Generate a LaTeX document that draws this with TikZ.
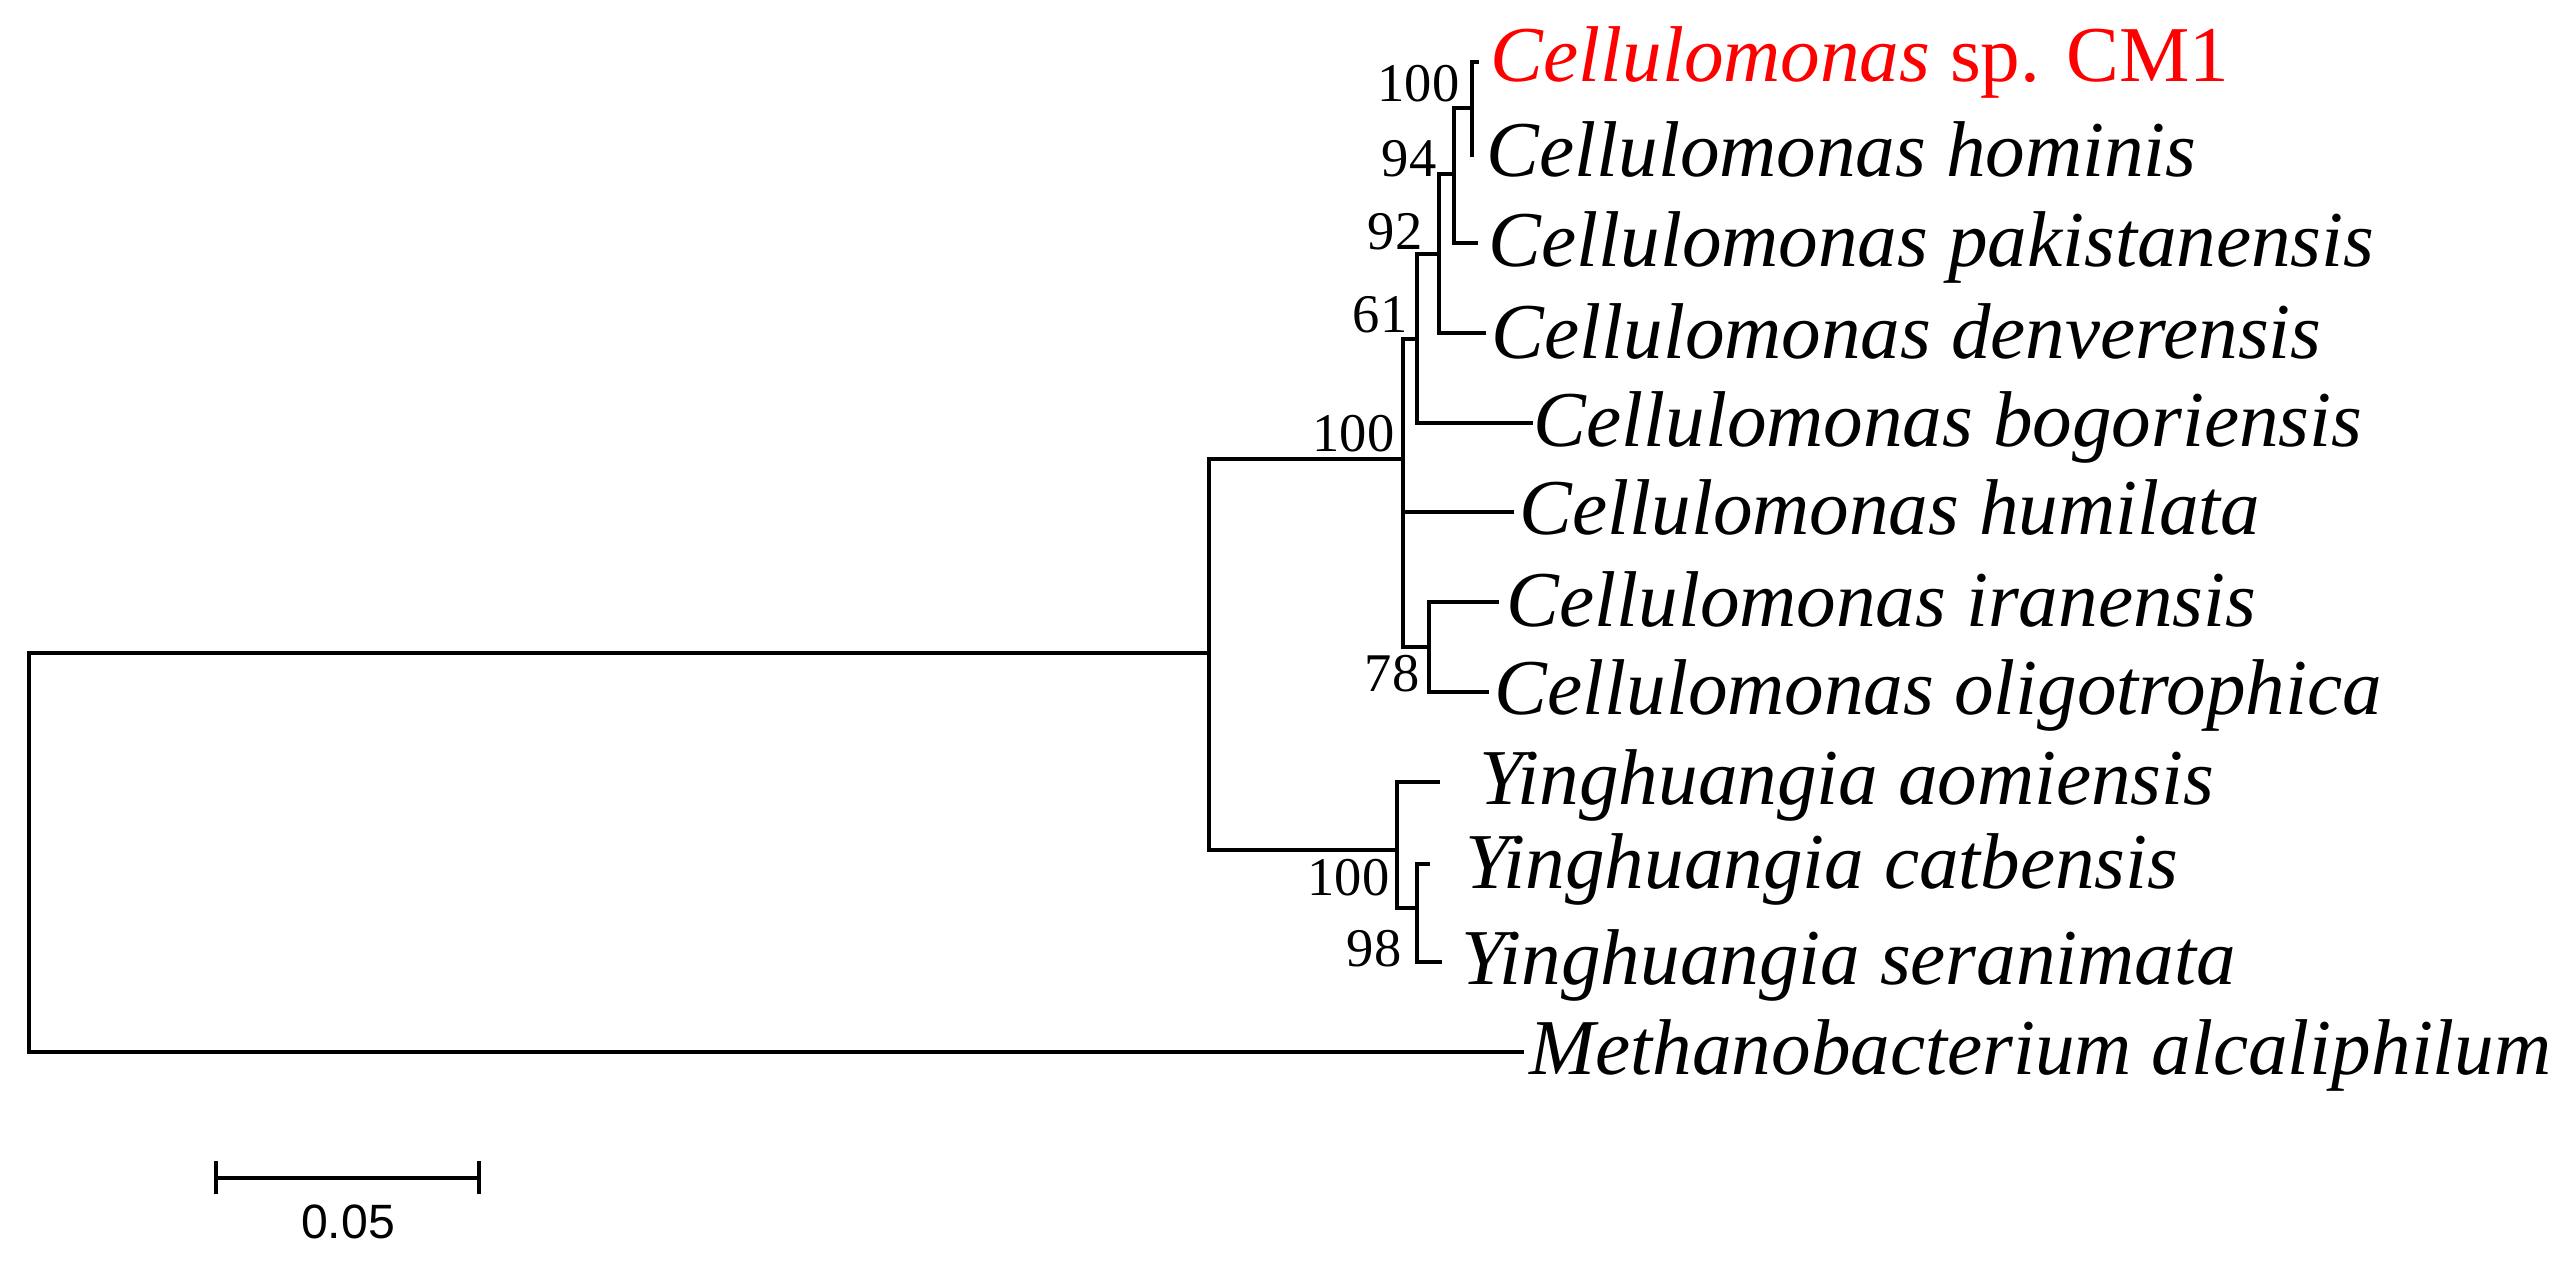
\documentclass[tikz,border=0pt]{standalone}
\usepackage{fontspec}
\setmainfont{Liberation Serif}
\newfontfamily\scalesans{Liberation Sans}
\begin{document}
\begin{tikzpicture}[x=0.01cm,y=-0.01cm,
  branch/.style={line width=1.0pt,black,line cap=rect},
  taxon/.style={anchor=base west,inner sep=0pt,font=\fontsize{22.5}{27}\selectfont\itshape},
  boot/.style={anchor=base east,inner sep=0pt,font=\fontsize{15.5}{18}\selectfont},
  scalebar/.style={line width=1.3pt,black}]
\useasboundingbox[fill=white] (0,0) rectangle (2575,1273);
% internal nodes
\coordinate (R) at (29,653);
\coordinate (I) at (1209,653);
\coordinate (E) at (1403,459);
\coordinate (D) at (1417,339);
\coordinate (C) at (1439,254);
\coordinate (B) at (1454,174);
\coordinate (A) at (1472,108);
\coordinate (F) at (1429,647);
\coordinate (G) at (1397,850);
\coordinate (H) at (1417,908);
% tips
\coordinate (cm1T) at (1477,62);
\coordinate (homT) at (1472,155);
\coordinate (pakT) at (1476,243);
\coordinate (denT) at (1484,333);
\coordinate (bogT) at (1531,423);
\coordinate (humT) at (1512,512);
\coordinate (iraT) at (1497,602);
\coordinate (oliT) at (1487,692);
\coordinate (aomT) at (1438,782);
\coordinate (catT) at (1428,864);
\coordinate (serT) at (1440,962);
\coordinate (metT) at (1522,1052);
% branches
\draw[branch] (R) -- (I);
\draw[branch] (R) |- (metT);
\draw[branch] (I) |- (E);
\draw[branch] (I) |- (G);
\draw[branch] (E) |- (D);
\draw[branch] (E) |- (humT);
\draw[branch] (E) |- (F);
\draw[branch] (D) |- (C);
\draw[branch] (D) |- (bogT);
\draw[branch] (C) |- (B);
\draw[branch] (C) |- (denT);
\draw[branch] (B) |- (A);
\draw[branch] (B) |- (pakT);
\draw[branch] (A) |- (cm1T);
\draw[branch] (A) |- (homT);
\draw[branch] (F) |- (iraT);
\draw[branch] (F) |- (oliT);
\draw[branch] (G) |- (aomT);
\draw[branch] (G) |- (H);
\draw[branch] (H) |- (catT);
\draw[branch] (H) |- (serT);
% taxa
\node[taxon,text={rgb,255:red,255;green,0;blue,0}] (cm1) at (1490,82) {Cellulomonas \upshape sp. CM1};
\node[taxon] (hom) at (1486,177) {Cellulomonas hominis};
\node[taxon] (pak) at (1488,267) {Cellulomonas pakistanensis};
\node[taxon] (den) at (1491,358) {Cellulomonas denverensis};
\node[taxon] (bog) at (1533,446) {Cellulomonas bogoriensis};
\node[taxon] (hum) at (1519,534) {Cellulomonas humilata};
\node[taxon] (ira) at (1506,626) {Cellulomonas iranensis};
\node[taxon] (oli) at (1494,714) {Cellulomonas oligotrophica};
\node[taxon] (aom) at (1479,804) {Yinghuangia aomiensis};
\node[taxon] (cat) at (1465,888) {Yinghuangia catbensis};
\node[taxon] (ser) at (1461,984) {Yinghuangia seranimata};
\node[taxon] (met) at (1529,1074) {Methanobacterium alcaliphilum};
% bootstrap values
\node[boot] (bA) at (1460,102) {100};
\node[boot] (bB) at (1437,177) {94};
\node[boot] (bC) at (1423,250) {92};
\node[boot] (bD) at (1408,332) {61};
\node[boot] (bE) at (1395,452) {100};
\node[boot] (bF) at (1420,691) {78};
\node[boot] (bG) at (1390,895) {100};
\node[boot] (bH) at (1402,966) {98};
% scale bar
\coordinate (sL) at (216,1178);
\coordinate (sR) at (479,1178);
\draw[scalebar] (sL) -- (sR);
\draw[scalebar] ([yshift=-0.16cm]sL) -- ([yshift=0.17cm]sL);
\draw[scalebar] ([yshift=-0.16cm]sR) -- ([yshift=0.17cm]sR);
\node[anchor=base,inner sep=0pt,font=\scalesans\fontsize{13.7}{16}\selectfont] (sLab) at (348,1238) {0.05};
\end{tikzpicture}
\end{document}
